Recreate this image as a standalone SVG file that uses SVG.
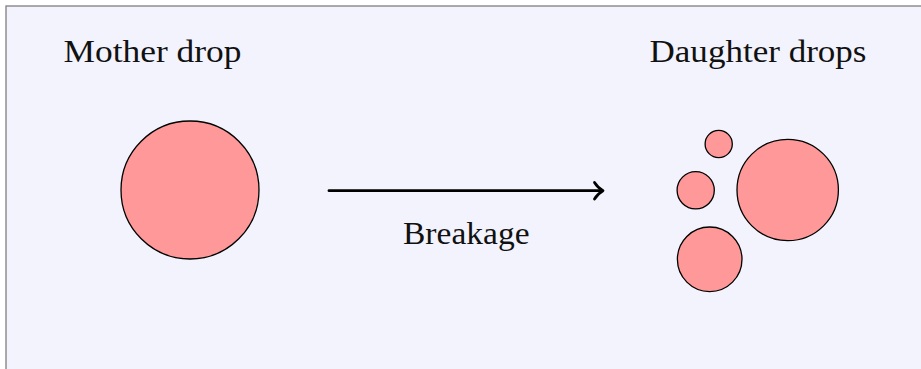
<svg xmlns="http://www.w3.org/2000/svg" width="921" height="369" viewBox="0 0 921 369">
  <style>
    .drop { fill: #ff9898; stroke: #000; stroke-width: 1.3; }
    .label { font-family: "Liberation Serif", "DejaVu Serif", serif; font-size: 32px; fill: #111; }
    .conn { fill: none; stroke: #000; stroke-width: 2.8; stroke-linecap: round; stroke-linejoin: round; }
  </style>
  <rect x="0" y="0" width="921" height="369" fill="#ffffff"/>
  <!-- framed panel -->
  <rect x="6" y="6" width="930" height="380" fill="#f3f3fd" stroke="#7f7f7f" stroke-width="1.3"/>

  <g id="mother">
    <text class="label" x="63.5" y="61.7" textLength="178" lengthAdjust="spacingAndGlyphs">Mother drop</text>
    <circle class="drop" cx="190" cy="190" r="69"/>
  </g>

  <g id="daughters">
    <text class="label" x="649.5" y="61.7" textLength="217" lengthAdjust="spacingAndGlyphs">Daughter drops</text>
    <circle class="drop" cx="718.7" cy="144" r="13.6"/>
    <circle class="drop" cx="695.7" cy="190.3" r="18.6"/>
    <circle class="drop" cx="709.7" cy="259.3" r="32.3"/>
    <circle class="drop" cx="787.7" cy="190" r="50.7"/>
  </g>

  <g id="connectors">
    <line class="conn" x1="329" y1="190.7" x2="602" y2="190.7"/>
    <path class="conn" d="M594.5 182.5 Q598 188 603 190.7 Q598 193.4 594.5 199"/>
    <text class="label" x="403" y="243.5" textLength="126.5" lengthAdjust="spacingAndGlyphs">Breakage</text>
  </g>
</svg>
